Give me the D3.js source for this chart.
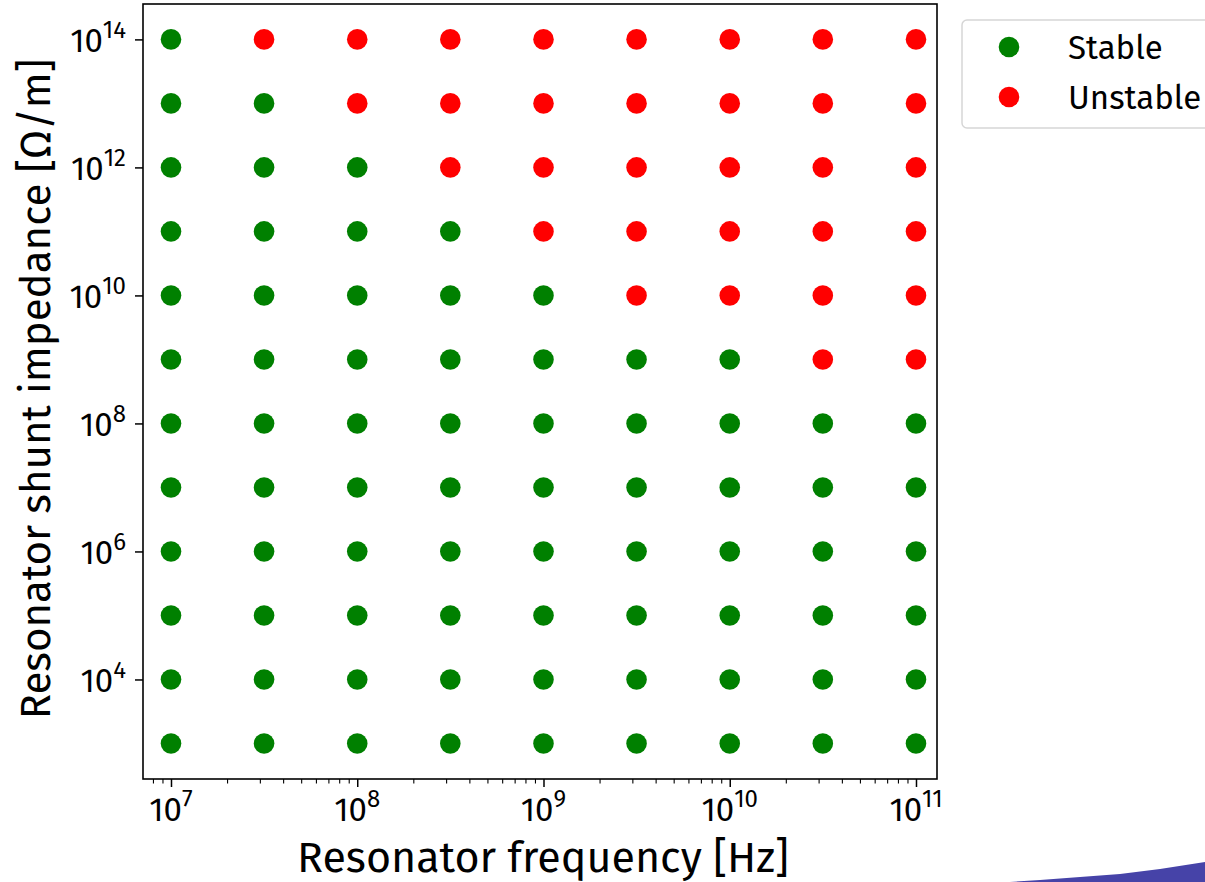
<!DOCTYPE html>
<html>
<head>
<meta charset="utf-8">
<script src="https://cdn.jsdelivr.net/npm/d3@7"></script>
<style>
  html, body { margin: 0; padding: 0; background: #fff; overflow: hidden; }
  svg { display: block; font-family: "Fira Sans", "Noto Sans", sans-serif; }
</style>
</head>
<body>
<svg id="chart" width="1205" height="882"></svg>
<script>
// resonator frequencies [Hz] (half-decade steps)
const frequencies = [1e7, 3.16e7, 1e8, 3.16e8, 1e9, 3.16e9, 1e10, 3.16e10, 1e11];
// shunt impedances [Ohm/m], top row first
const impedances = [1e14, 1e13, 1e12, 1e11, 1e10, 1e9, 1e8, 1e7, 1e6, 1e5, 1e4, 1e3];
// S = stable, U = unstable; one string per impedance row, one char per frequency
const status = [
  "SUUUUUUUU",
  "SSUUUUUUU",
  "SSSUUUUUU",
  "SSSSUUUUU",
  "SSSSSUUUU",
  "SSSSSSSUU",
  "SSSSSSSSS",
  "SSSSSSSSS",
  "SSSSSSSSS",
  "SSSSSSSSS",
  "SSSSSSSSS",
  "SSSSSSSSS"
];
const xTickExps = [7, 8, 9, 10, 11];
const yTickExps = [4, 6, 8, 10, 12, 14];
const legendItems = [
  {key: "S", label: "Stable", color: "#008000"},
  {key: "U", label: "Unstable", color: "#ff0000"}
];

const colorOf = {S: "#008000", U: "#ff0000"};

const plot = {left: 143, right: 937, top: 4, bottom: 779};

const points = [];
impedances.forEach((z, i) => {
  frequencies.forEach((f, j) => {
    points.push({f: f, z: z, s: status[i][j]});
  });
});

const x = d3.scaleLog()
  .domain([Math.pow(10, 6.8497), Math.pow(10, 11.1128)])
  .range([plot.left, plot.right]);

const y = d3.scaleLog()
  .domain([Math.pow(10, 2.445), Math.pow(10, 14.553)])
  .range([plot.bottom, plot.top]);

const svg = d3.select('#chart');

// decorative brush stroke bottom right
svg.append('path')
  .attr('d', 'M1010,882 L1040,880 L1080,877 L1120,874 L1160,869 L1205,862 L1205,882 Z')
  .attr('fill', '#4643a8');

// minor x ticks (2..9 x 10^k)
const minorX = [];
for (let k = 6; k <= 11; k++) {
  for (let m = 2; m <= 9; m++) {
    const v = m * Math.pow(10, k);
    if (v >= x.domain()[0] && v <= x.domain()[1]) minorX.push(v);
  }
}

const xAxis = svg.append('g')
  .attr('transform', `translate(0,${plot.bottom})`)
  .call(d3.axisBottom(x).tickValues(xTickExps.map(e => Math.pow(10, e))).tickFormat('').tickSize(8).tickSizeOuter(0));
xAxis.select('.domain').remove();
xAxis.selectAll('line').attr('stroke', '#000').attr('stroke-width', 1.5);

const xMinor = svg.append('g')
  .attr('transform', `translate(0,${plot.bottom})`)
  .call(d3.axisBottom(x).tickValues(minorX).tickFormat('').tickSize(4.5).tickSizeOuter(0));
xMinor.select('.domain').remove();
xMinor.selectAll('line').attr('stroke', '#000').attr('stroke-width', 1.1);

const yAxis = svg.append('g')
  .attr('transform', `translate(${plot.left},0)`)
  .call(d3.axisLeft(y).tickValues(yTickExps.map(e => Math.pow(10, e))).tickFormat('').tickSize(8).tickSizeOuter(0));
yAxis.select('.domain').remove();
yAxis.selectAll('line').attr('stroke', '#000').attr('stroke-width', 1.5);

// power-of-ten tick labels
function powLabel(sel, exp) {
  sel.append('tspan').text('10');
  sel.append('tspan').attr('dy', -14).attr('font-size', 24).text(exp);
}

xTickExps.forEach(e => {
  const t = svg.append('text')
    .attr('x', x(Math.pow(10, e)))
    .attr('y', 821)
    .attr('font-size', 33)
    .attr('text-anchor', 'middle')
    .attr('fill', '#000');
  powLabel(t, e);
});

yTickExps.forEach(e => {
  const t = svg.append('text')
    .attr('x', 126)
    .attr('y', y(Math.pow(10, e)) + 13)
    .attr('font-size', 33)
    .attr('text-anchor', 'end')
    .attr('fill', '#000');
  powLabel(t, e);
});

// scatter points
svg.append('g')
  .selectAll('circle')
  .data(points)
  .join('circle')
  .attr('cx', d => x(d.f))
  .attr('cy', d => y(d.z))
  .attr('r', 10.3)
  .attr('fill', d => colorOf[d.s]);

// frame
svg.append('rect')
  .attr('x', plot.left)
  .attr('y', plot.top)
  .attr('width', plot.right - plot.left)
  .attr('height', plot.bottom - plot.top)
  .attr('fill', 'none')
  .attr('stroke', '#000')
  .attr('stroke-width', 1.6);

// axis titles
svg.append('text')
  .attr('x', 543)
  .attr('y', 872)
  .attr('text-anchor', 'middle')
  .attr('font-size', 43)
  .text('Resonator frequency [Hz]');

svg.append('text')
  .attr('transform', 'translate(50,389) rotate(-90)')
  .attr('text-anchor', 'middle')
  .attr('font-size', 42)
  .text('Resonator shunt impedance [Ω/m]');

// legend
const legend = svg.append('g');
legend.append('rect')
  .attr('x', 962)
  .attr('y', 20)
  .attr('width', 280)
  .attr('height', 108)
  .attr('rx', 5)
  .attr('fill', '#fff')
  .attr('stroke', '#d6d6d6')
  .attr('stroke-width', 1.5);

legendItems.forEach((d, i) => {
  legend.append('circle')
    .attr('cx', 1009)
    .attr('cy', 47 + i * 50)
    .attr('r', 10.3)
    .attr('fill', d.color);
  legend.append('text')
    .attr('x', 1068)
    .attr('y', 59 + i * 50)
    .attr('font-size', 33)
    .text(d.label);
});
</script>
</body>
</html>
